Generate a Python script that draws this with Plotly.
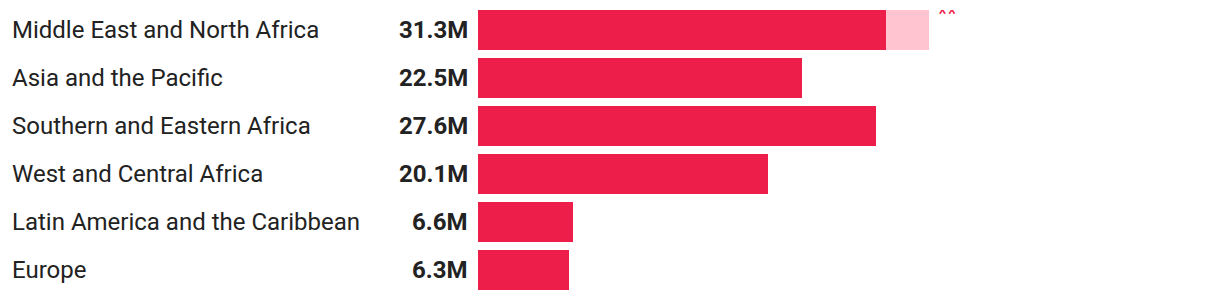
import plotly.graph_objects as go

regions = ["Middle East and North Africa", "Asia and the Pacific", "Southern and Eastern Africa",
           "West and Central Africa", "Latin America and the Caribbean", "Europe"]
totals = [31.3, 22.5, 27.6, 20.1, 6.6, 6.3]
base_part = [28.3, 22.5, 27.6, 20.1, 6.6, 6.3]
extra_part = [3.0, 0, 0, 0, 0, 0]
value_labels = ["31.3M", "22.5M", "27.6M", "20.1M", "6.6M", "6.3M"]
note_mark = "**"

DARK = "#EE1E4B"
LIGHT = "#FFC4CF"
TEXT = "#222222"

W, H = 1220, 300
ML, MR, MT, MB = 478, 21, 10, 10
PW = W - ML - MR
half = (40 / 48) / 2

fig = go.Figure()
fig.add_trace(go.Bar(y=regions, x=base_part, orientation="h", marker=dict(color=DARK, line=dict(width=0)),
                     hoverinfo="skip", showlegend=False))
fig.add_trace(go.Bar(y=regions, x=extra_part, orientation="h", marker=dict(color=LIGHT, line=dict(width=0)),
                     hoverinfo="skip", showlegend=False))
# footnote marker, clipped at the top of the plotting area
fig.add_trace(go.Scatter(x=[totals[0]], y=[15], yaxis="y2", mode="markers+text", text=[note_mark],
                         marker=dict(size=12, opacity=0),
                         textposition="middle right", cliponaxis=True, hoverinfo="skip", showlegend=False,
                         textfont=dict(family="Roboto", size=22, color=DARK)))

for r, lab in zip(regions, value_labels):
    fig.add_annotation(x=(10 - ML) / PW, xref="paper", y=r, yref="y", text=r, showarrow=False,
                       xanchor="left", yanchor="middle", font=dict(family="Roboto", size=24, color=TEXT))
    fig.add_annotation(x=(470 - ML) / PW, xref="paper", y=r, yref="y", text="<b>" + lab + "</b>",
                       showarrow=False, xanchor="right", yanchor="middle",
                       font=dict(family="Roboto", size=24, color=TEXT))

fig.update_layout(
    width=W, height=H, barmode="stack", bargap=1 / 6,
    margin=dict(l=ML, r=MR, t=MT, b=MB),
    paper_bgcolor="white", plot_bgcolor="white",
    xaxis=dict(range=[0, 50], visible=False, fixedrange=True),
    yaxis=dict(range=[len(regions) - 1 + half, -half], visible=False, fixedrange=True),
    yaxis2=dict(range=[290, 10], overlaying="y", visible=False, fixedrange=True),
)
fig.write_html("out.html", config={"displayModeBar": False})
